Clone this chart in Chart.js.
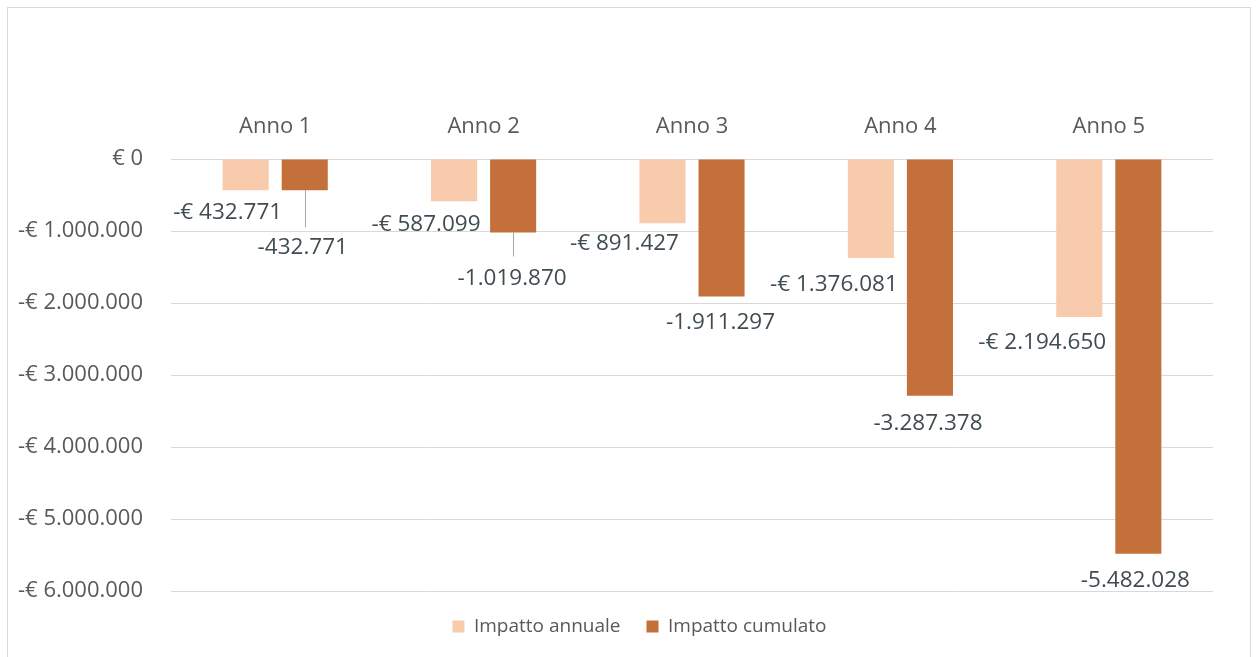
<!DOCTYPE html>
<html>
<head>
<meta charset="utf-8">
<script src="https://cdn.jsdelivr.net/npm/chart.js@4/dist/chart.umd.min.js"></script>
<style>
  html, body { margin: 0; padding: 0; background: #ffffff; }
  #wrap { position: relative; width: 1258px; height: 657px; }
</style>
</head>
<body>
<div id="wrap"><canvas id="c" width="1258" height="657"></canvas></div>
<script>
// ---- data ----
const categories = ['Anno 1', 'Anno 2', 'Anno 3', 'Anno 4', 'Anno 5'];
const seriesNames = ['Impatto annuale', 'Impatto cumulato'];
const impattoAnnuale = [-432771, -587099, -891427, -1376081, -2194650];
const impattoCumulato = [-432771, -1019870, -1911297, -3287378, -5482028];
const yTickValues = [0, -1000000, -2000000, -3000000, -4000000, -5000000, -6000000];
const yTickLabels = ['€ 0', '-€ 1.000.000', '-€ 2.000.000', '-€ 3.000.000', '-€ 4.000.000', '-€ 5.000.000', '-€ 6.000.000'];

// ---- formatting ----
function itNum(v) {
  return Math.abs(v).toString().replace(/\B(?=(\d{3})+(?!\d))/g, '.');
}
const fmtAnnuale = v => (v < 0 ? '-€ ' : '€ ') + itNum(v);
const fmtCumulato = v => (v < 0 ? '-' : '') + itNum(v);

const FONT = '"Open Sans", "Noto Sans", sans-serif';

// label placement (layout, relative to bar end)
const labelLayout = {
  0: { fmt: fmtAnnuale, offsets: [[-18, 22], [-28, 23], [-38, 20], [-37, 27], [-37, 26]], leaders: [0, 0, 0, 0, 0] },
  1: { fmt: fmtCumulato, offsets: [[-2, 57], [-1, 46], [-1, 26], [-2, 28], [-3, 27]], leaders: [37, 24, 0, 0, 0] }
};

const frame = {
  id: 'frame',
  beforeDraw(chart) {
    const ctx = chart.ctx;
    ctx.save();
    ctx.fillStyle = '#ffffff';
    ctx.fillRect(0, 0, chart.width, chart.height);
    ctx.strokeStyle = '#d9d9d9';
    ctx.lineWidth = 1;
    ctx.strokeRect(7.5, 7.5, 1243, 670);
    ctx.restore();
  }
};

// nudge the legend so it sits where the original's does
const legendShift = {
  id: 'legendShift',
  afterLayout(chart) {
    const lg = chart.legend;
    if (lg) { lg.left += 33; lg.right += 33; }
  }
};

const dataLabels = {
  id: 'dataLabels',
  afterDatasetsDraw(chart) {
    const ctx = chart.ctx;
    ctx.save();
    ctx.font = '22.5px ' + FONT;
    ctx.textAlign = 'center';
    ctx.textBaseline = 'middle';
    chart.data.datasets.forEach((ds, di) => {
      const meta = chart.getDatasetMeta(di);
      const lay = labelLayout[di];
      meta.data.forEach((bar, i) => {
        const [dx, dy] = lay.offsets[i];
        const lead = lay.leaders[i];
        if (lead) {
          ctx.strokeStyle = '#a6a6a6';
          ctx.lineWidth = 1;
          ctx.beginPath();
          ctx.moveTo(Math.round(bar.x) + 0.5, bar.y);
          ctx.lineTo(Math.round(bar.x) + 0.5, bar.y + lead);
          ctx.stroke();
        }
        ctx.fillStyle = '#3f4c52';
        ctx.fillText(lay.fmt(ds.data[i]), bar.x + dx, bar.y + dy);
      });
    });
    ctx.restore();
  }
};

new Chart(document.getElementById('c'), {
  type: 'bar',
  data: {
    labels: categories,
    datasets: [
      { label: seriesNames[0], data: impattoAnnuale, backgroundColor: '#F8CBAD', borderWidth: 0,
        categoryPercentage: 0.567, barPercentage: 0.78 },
      { label: seriesNames[1], data: impattoCumulato, backgroundColor: '#C4703A', borderWidth: 0,
        categoryPercentage: 0.567, barPercentage: 0.78 }
    ]
  },
  options: {
    responsive: false,
    animation: false,
    layout: { padding: { left: 0, right: 45, top: 0, bottom: 11 } },
    plugins: {
      legend: {
        position: 'bottom',
        labels: {
          boxWidth: 12, boxHeight: 12, padding: 26,
          color: '#595959',
          font: { family: FONT, size: 19 }
        }
      },
      tooltip: { enabled: false }
    },
    scales: {
      x: {
        position: 'top',
        grid: { display: false, drawTicks: false },
        border: { display: false },
        ticks: { color: '#595959', font: { family: FONT, size: 22 }, padding: 19 },
        afterFit(scale) { scale.height = 159; }
      },
      y: {
        min: -6000000, max: 0,
        afterBuildTicks(scale) { scale.ticks = yTickValues.map(v => ({ value: v })); },
        grid: { color: '#d9d9d9', drawTicks: false },
        border: { display: false },
        ticks: {
          color: '#595959', font: { family: FONT, size: 22 }, padding: 28,
          callback(v) { const k = yTickValues.indexOf(v); return k >= 0 ? yTickLabels[k] : ''; }
        },
        afterFit(scale) { scale.width = 171; }
      }
    }
  },
  plugins: [frame, legendShift, dataLabels]
});
</script>
</body>
</html>
